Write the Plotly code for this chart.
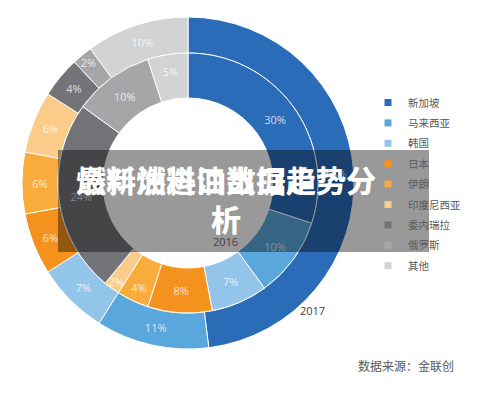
import plotly.graph_objects as go

categories = ["新加坡", "马来西亚", "韩国", "日本", "伊朗", "印度尼西亚", "委内瑞拉", "俄罗斯", "其他"]
values_2016 = [30, 10, 7, 8, 4, 2, 24, 10, 5]
values_2017 = [48, 11, 7, 6, 6, 6, 4, 2, 10]
colors = ["#2A6CB8", "#5AA7DD", "#93C5EB", "#F5921E", "#F9AB3C", "#FBCB8A",
          "#737477", "#A5A6A8", "#D2D3D5"]
series_names = ["2016", "2017"]
title_lines = ["燃料油进口数据走势分", "最新燃料油出口趋势分"]
title_tail = "析"
source_text = "数据来源：金联创"

# page body adds an 8px offset; work in reference pixel coords minus that offset
OFF = 8
W, H = 489 - OFF, 403 - OFF


def px(x):
    return (x - OFF) / W


def py(y):
    return (H - (y - OFF)) / H


cx, cy = 188, 183
R_out, R_mid, R_in = 166, 130, 85


def dom(r):
    return dict(x=[px(cx - r), px(cx + r)], y=[py(cy + r), py(cy - r)])


fig = go.Figure()
txtfont = dict(family="Open Sans, DejaVu Sans", size=11, color="rgba(255,255,255,0.78)")

fig.add_trace(go.Pie(
    labels=categories, values=values_2017, name=series_names[1],
    domain=dom(R_out), hole=R_mid / R_out, sort=False, direction="clockwise", rotation=0,
    marker=dict(colors=colors, line=dict(color="white", width=1)),
    texttemplate="%{percent:.0%}", textposition="inside", insidetextorientation="horizontal",
    textfont=txtfont, showlegend=False, hoverinfo="label+percent"))

fig.add_trace(go.Pie(
    labels=categories, values=values_2016, name=series_names[0],
    domain=dom(R_mid), hole=R_in / R_mid, sort=False, direction="clockwise", rotation=0,
    marker=dict(colors=colors, line=dict(color="white", width=1)),
    texttemplate="%{percent:.0%}", textposition="inside", insidetextorientation="horizontal",
    textfont=txtfont, showlegend=False, hoverinfo="label+percent"))

for c, col in zip(categories, colors):
    fig.add_trace(go.Scatter(x=[None], y=[None], mode="markers", name=c,
                             legendgroup=c,
                             marker=dict(symbol="square", size=7, color=col)))

fig.update_xaxes(visible=False)
fig.update_yaxes(visible=False)

fig.update_layout(
    width=W, height=H, margin=dict(l=0, r=0, t=0, b=0),
    paper_bgcolor="white", plot_bgcolor="white",
    uniformtext=dict(minsize=11, mode="show"),
    legend=dict(x=px(368), y=py(88), xanchor="left", yanchor="top",
                font=dict(family="Noto Sans CJK SC", size=10.5, color="#595959"),
                tracegroupgap=1.4, bgcolor="rgba(0,0,0,0)"),
    shapes=[dict(type="rect", xref="paper", yref="paper", layer="above",
                 x0=px(58), x1=px(429), y0=py(252), y1=py(150),
                 fillcolor="rgba(0,0,0,0.4)", line=dict(width=0))],
    annotations=[
        dict(text=series_names[0], x=px(225), y=py(241), xref="paper", yref="paper",
             showarrow=False, font=dict(family="Open Sans", size=11, color="#404040")),
        dict(text=series_names[1], x=px(312), y=py(320), xref="paper", yref="paper",
             showarrow=False, font=dict(family="Open Sans", size=11, color="#404040")),
        dict(text=source_text, x=px(456), y=py(376), xref="paper", yref="paper",
             xanchor="right", showarrow=False,
             font=dict(family="Noto Sans CJK SC", size=12, color="#595959")),
    ] + [
        dict(text="<b>" + t + "<br>" + title_tail + "</b>", x=px(226), y=py(198),
             xref="paper", yref="paper", showarrow=False,
             font=dict(family="Noto Sans CJK SC", size=30, color="white"))
        for t in title_lines
    ],
)

fig.write_html("out.html")
